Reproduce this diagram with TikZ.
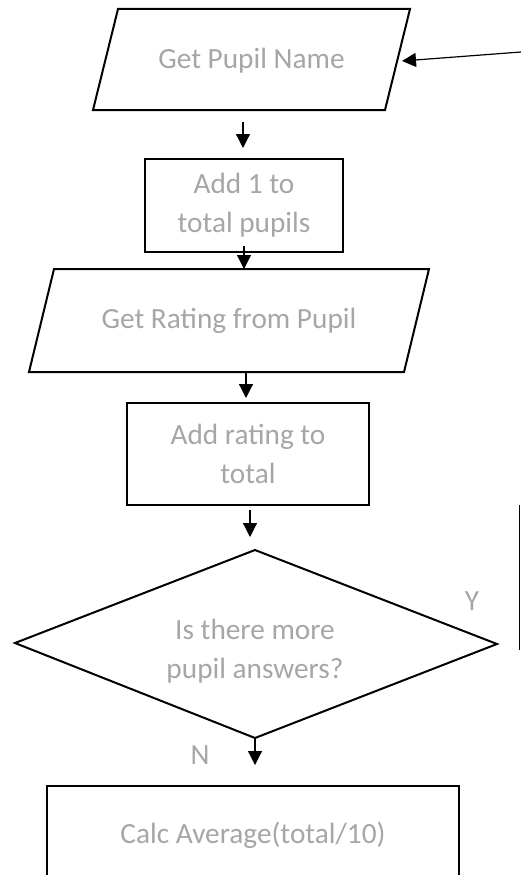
\documentclass[tikz,border=0pt]{standalone}
\usepackage{fontspec}
\setmainfont{Carlito}
\usetikzlibrary{arrows.meta}
\definecolor{txtgray}{RGB}{166,166,166}
\tikzset{
  shapeline/.style={draw=black, line width=2pt, line join=miter},
  txt/.style={text=txtgray, font=\fontsize{29.3}{39}\selectfont, align=center, inner sep=0pt},
  boxnode/.style={shapeline, rectangle, inner sep=0pt, text=txtgray, font=\fontsize{29.3}{39}\selectfont, align=center},
  flowarrow/.style={line width=1.2pt, -{Triangle[length=14pt,width=14pt]}},
  thinline/.style={line width=1pt},
}
\begin{document}
\begin{tikzpicture}[x=1pt,y=-1pt]
\useasboundingbox (0,0) rectangle (521,875);
\clip (0,0) rectangle (521,875);
% shapes
\draw[shapeline] (118,9) -- (410,9) -- (385,110) -- (93,110) -- cycle;
\node[txt] (getname) at (251.5,61) {Get Pupil Name};
\node[boxnode, minimum width=198pt, minimum height=93pt] (addone) at (244,205.5) {Add 1 to\\total pupils};
\draw[shapeline] (54,269) -- (429,269) -- (404,372) -- (29,372) -- cycle;
\node[txt] (getrating) at (229,321) {Get Rating from Pupil};
\node[boxnode, minimum width=242pt, minimum height=102pt] (addrating) at (248,454) {Add rating to\\total};
\draw[shapeline] (255,550) -- (497,644) -- (255,738) -- (15,643) -- cycle;
\node[txt] (question) at (255,651) {Is there more\\pupil answers?};
\draw[shapeline] (47,895) -- (47,786) -- (459,786) -- (459,895);
\node[txt] (calc) at (253,835) {Calc Average(total/10)};
\node[txt] (ylab) at (472,601) {Y};
\node[txt] (nlab) at (200,755) {N};
% connector end points
\coordinate (a0s) at (521,52);  \coordinate (a0e) at (402,61);
\coordinate (a1s) at (243,122); \coordinate (a1e) at (243,148);
\coordinate (a2s) at (244,246); \coordinate (a2e) at (244,269);
\coordinate (a3s) at (246,372); \coordinate (a3e) at (246,398);
\coordinate (a4s) at (250,510); \coordinate (a4e) at (250,537);
\coordinate (a5s) at (255,738); \coordinate (a5e) at (255,765);
\coordinate (ls) at (519,505);  \coordinate (le) at (519,650);
% connectors
\draw[flowarrow] (a0s) -- (a0e);
\draw[flowarrow] (a1s) -- (a1e);
\draw[flowarrow] (a2s) -- (a2e);
\draw[flowarrow] (a3s) -- (a3e);
\draw[flowarrow] (a4s) -- (a4e);
\draw[flowarrow] (a5s) -- (a5e);
\draw[thinline] (ls) -- (le);
\end{tikzpicture}
\end{document}
